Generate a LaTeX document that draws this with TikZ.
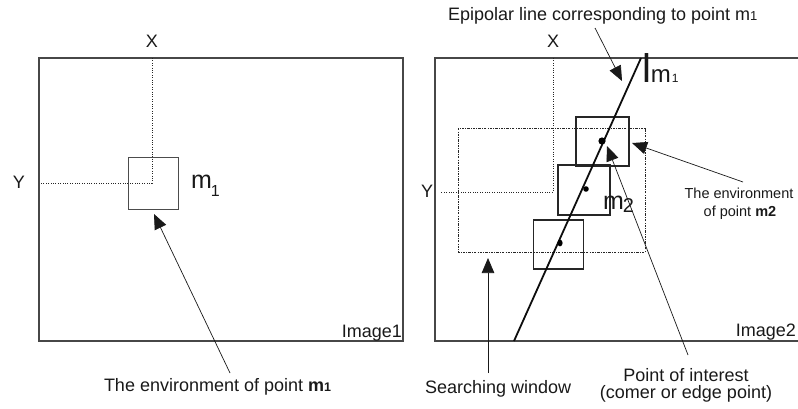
\documentclass[tikz,border=0pt]{standalone}
\usepackage{fontspec}
\setmainfont{Liberation Sans}
\usetikzlibrary{arrows.meta}
\begin{document}
\begin{tikzpicture}[x=1pt,y=-1pt,
  every node/.style={inner sep=0pt, outer sep=0pt, text=black!90},
  lbl/.style={font=\fontsize{18}{21}\selectfont},
  smalllbl/.style={font=\fontsize{14.5}{17}\selectfont},
  frame/.style={draw=black!72, line width=1.1pt},
  guide/.style={draw=black!85, line width=0.8pt, dash pattern=on 0.8pt off 1.6pt},
  swin/.style={draw=black!85, line width=0.7pt, dash pattern=on 2.4pt off 1.2pt on 0.8pt off 1.2pt},
  win/.style={draw=black!85, line width=#1, minimum width=50pt, minimum height=49pt},
  win/.default=1pt,
  pointer/.style={draw=black!90, line width=0.7pt, -{Triangle[length=15pt,width=12.5pt]}},
  epiline/.style={draw=black!95, line width=1.8pt}
]
\useasboundingbox (0,0) rectangle (798,409);

% ---------- Image 1 ----------
\draw[frame] (39,58) rectangle (403,341);
\node[lbl, anchor=base] (x1) at (152,48) {X};
\node[lbl, anchor=base] (y1) at (19,188) {Y};
\coordinate (c1) at (152,183);
\draw[guide] (152,58) -- (c1) -- (41,183);
\node[draw=black!70, line width=1pt, minimum width=50pt, minimum height=51pt] (w1) at (153,183.5) {};
\node[anchor=base west] (m1) at (191,188)
  {\fontsize{25}{27}\selectfont m\kern-1pt\raisebox{-9pt}{\fontsize{16}{18}\selectfont 1}};
\node[lbl, anchor=base east] (img1) at (402,337) {Image1};
\node[lbl, anchor=base west] (envone) at (104,391)
  {The environment of point \textbf{m{\fontsize{12.5}{14}\selectfont 1}}};
\coordinate (envonetail) at (230,373);
\coordinate (envonetip) at (154,214);
\draw[pointer] (envonetail) -- (envonetip);

% ---------- Image 2 ----------
\draw[frame] (799,58) -| (435,341) -- (799,341);
\node[lbl, anchor=base] (x2) at (553,48) {X};
\node[lbl, anchor=base] (y2) at (427,197) {Y};
\coordinate (c2) at (553,192);
\draw[guide] (553,58) -- (c2) -- (440,192);
% searching window
\draw[swin] (458,128) rectangle (645,252);
% candidate windows along the epipolar line
\node[win=1.6pt] (wa) at (558.5,244.5) {};
\node[win=2.4pt, minimum width=52pt, minimum height=50pt] (wb) at (584,190) {};
\node[win=2.2pt, minimum width=53pt, minimum height=49pt] (wc) at (602.5,141.5) {};
% epipolar line
\coordinate (ebot) at (514,341);
\coordinate (etop) at (641,58);
\draw[epiline] (ebot) -- (etop);
% points of interest
\fill[black] (602,141) circle (3.6pt);
\fill[black] (586,189) circle (2.8pt);
\fill[black] (560,243) ellipse (2.6pt and 3.4pt);
\node[anchor=base west] (m2) at (603,209)
  {\fontsize{25}{27}\selectfont m\kern-1pt\raisebox{-3pt}{\fontsize{20}{22}\selectfont 2}};
\node[anchor=base west] (lm1) at (642,83)
  {\fontsize{40}{40}\selectfont l\fontsize{24}{24}\selectfont m\kern1pt\fontsize{12}{12}\selectfont 1};
\node[lbl, anchor=base east] (img2) at (796,336) {Image2};

% labels and pointers
\node[lbl, anchor=base west] (epi) at (448,21)
  {Epipolar line corresponding to point m{\fontsize{13}{14}\selectfont 1}};
\coordinate (epitail) at (595,28);
\coordinate (epitip) at (622,81);
\draw[pointer] (epitail) -- (epitip);

\node[smalllbl, anchor=base] (envtwoa) at (739,198) {The environment};
\node[smalllbl, anchor=base] (envtwob) at (740,216) {of point \textbf{m2}};
\coordinate (envtwotail) at (743,182);
\coordinate (envtwotip) at (632,143);
\draw[pointer] (envtwotail) -- (envtwotip);

\node[lbl, anchor=base] (poia) at (686,381) {Point of interest};
\node[lbl, anchor=base] (poib) at (686,398) {(comer or edge point)};
\coordinate (poitail) at (688,355);
\coordinate (poitip) at (607,146);
\draw[pointer] (poitail) -- (poitip);

\node[lbl, anchor=base west] (search) at (425,393) {Searching window};
\coordinate (searchtail) at (488,373);
\coordinate (searchtip) at (488,258);
\draw[pointer] (searchtail) -- (searchtip);
\end{tikzpicture}
\end{document}
